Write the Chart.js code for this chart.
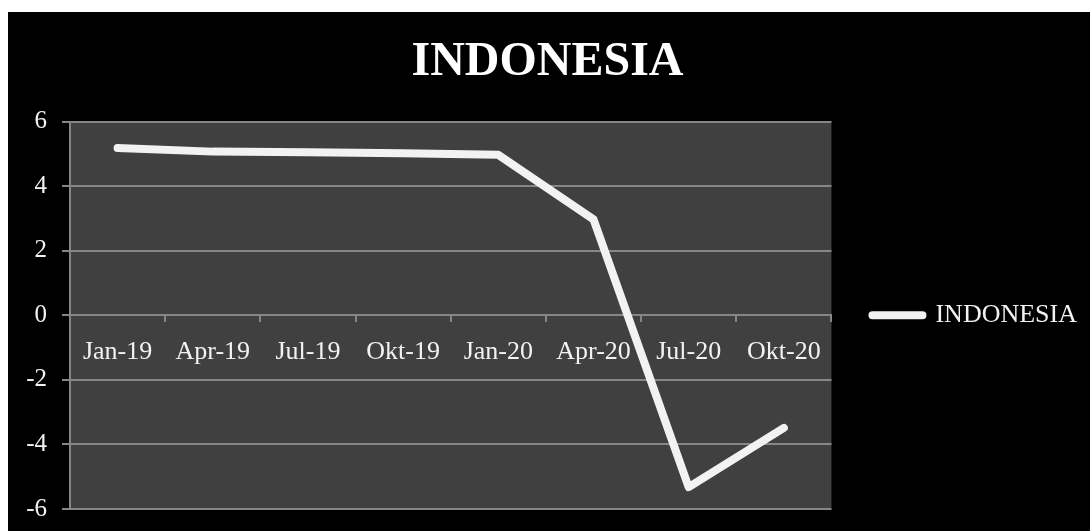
<!DOCTYPE html>
<html>
<head>
<meta charset="utf-8">
<title>INDONESIA</title>
<script src="https://cdn.jsdelivr.net/npm/chart.js@4/dist/chart.umd.min.js"></script>
<style>
    html, body {
        margin: 0;
        padding: 0;
        background: #ffffff;
    }
    #frame {
        position: absolute;
        left: 8px;
        top: 12px;
        width: 1082px;
        height: 519px;
        background: #000000;
    }
</style>
</head>
<body>
<div id="frame">
    <canvas id="chart"></canvas>
</div>
<script>
    'use strict';

    // Quarterly growth, percent
    const QUARTERS = ['Jan-19', 'Apr-19', 'Jul-19', 'Okt-19', 'Jan-20', 'Apr-20', 'Jul-20', 'Okt-20'];
    const GROWTH = [5.18, 5.07, 5.05, 5.02, 4.97, 2.97, -5.32, -3.49];
    const SERIES_NAME = 'INDONESIA';
    const Y_MIN = -6;
    const Y_MAX = 6;
    const Y_STEP = 2;

    const FONT = "'Liberation Serif', 'Times New Roman', serif";
    const TEXT = '#f2f2f2';
    const GRID = '#868686';
    const PLOT_BG = '#404040';

    // Fills the plot area before anything else is drawn
    const plotBackground = {
        id: 'plotBackground',
        beforeDraw(chart) {
            const { ctx, chartArea } = chart;
            ctx.save();
            ctx.fillStyle = PLOT_BG;
            ctx.fillRect(chartArea.left, chartArea.top,
                chartArea.right - chartArea.left, chartArea.bottom - chartArea.top);
            ctx.restore();
        }
    };

    const canvas = document.getElementById('chart');

    new Chart(canvas.getContext('2d'), {
        type: 'line',
        data: {
            labels: QUARTERS,
            datasets: [{
                label: SERIES_NAME,
                data: GROWTH,
                borderColor: TEXT,
                backgroundColor: TEXT,
                borderWidth: 8,
                borderCapStyle: 'round',
                borderJoinStyle: 'round',
                tension: 0,
                pointRadius: 0,
                pointHoverRadius: 0
            }]
        },
        options: {
            responsive: true,
            maintainAspectRatio: false,
            animation: false,
            layout: {
                padding: { left: 0, right: 3, top: 0, bottom: 22 }
            },
            plugins: {
                title: {
                    display: true,
                    text: SERIES_NAME,
                    color: '#ffffff',
                    font: { family: FONT, size: 48, weight: 'bold' },
                    padding: { top: 22, bottom: 30 }
                },
                legend: {
                    position: 'right',
                    align: 'center',
                    fullSize: false,
                    labels: {
                        color: TEXT,
                        font: { family: FONT, size: 26 },
                        boxWidth: 50,
                        boxHeight: 0,
                        padding: 41
                    }
                },
                tooltip: { enabled: false }
            },
            scales: {
                x: {
                    position: { y: 0 },
                    offset: true,
                    grid: {
                        offset: true,
                        drawOnChartArea: false,
                        drawTicks: true,
                        tickLength: 6,
                        color: GRID,
                        lineWidth: 2
                    },
                    border: { display: true, color: GRID, width: 2 },
                    ticks: {
                        color: TEXT,
                        font: { family: FONT, size: 26 },
                        padding: 15,
                        maxRotation: 0,
                        autoSkip: false
                    }
                },
                y: {
                    min: Y_MIN,
                    max: Y_MAX,
                    afterFit(scale) {
                        scale.width = 62;
                        // labels sit inside the outer margins, keep them from shrinking the plot
                        scale.paddingTop = 8;
                        scale.paddingBottom = 8;
                    },
                    grid: {
                        color: GRID,
                        lineWidth: 2,
                        drawTicks: true,
                        tickLength: 8
                    },
                    border: { display: true, color: GRID, width: 2 },
                    ticks: {
                        stepSize: Y_STEP,
                        color: TEXT,
                        font: { family: FONT, size: 25 },
                        padding: 15
                    }
                }
            }
        },
        plugins: [plotBackground]
    });
</script>
</body>
</html>
